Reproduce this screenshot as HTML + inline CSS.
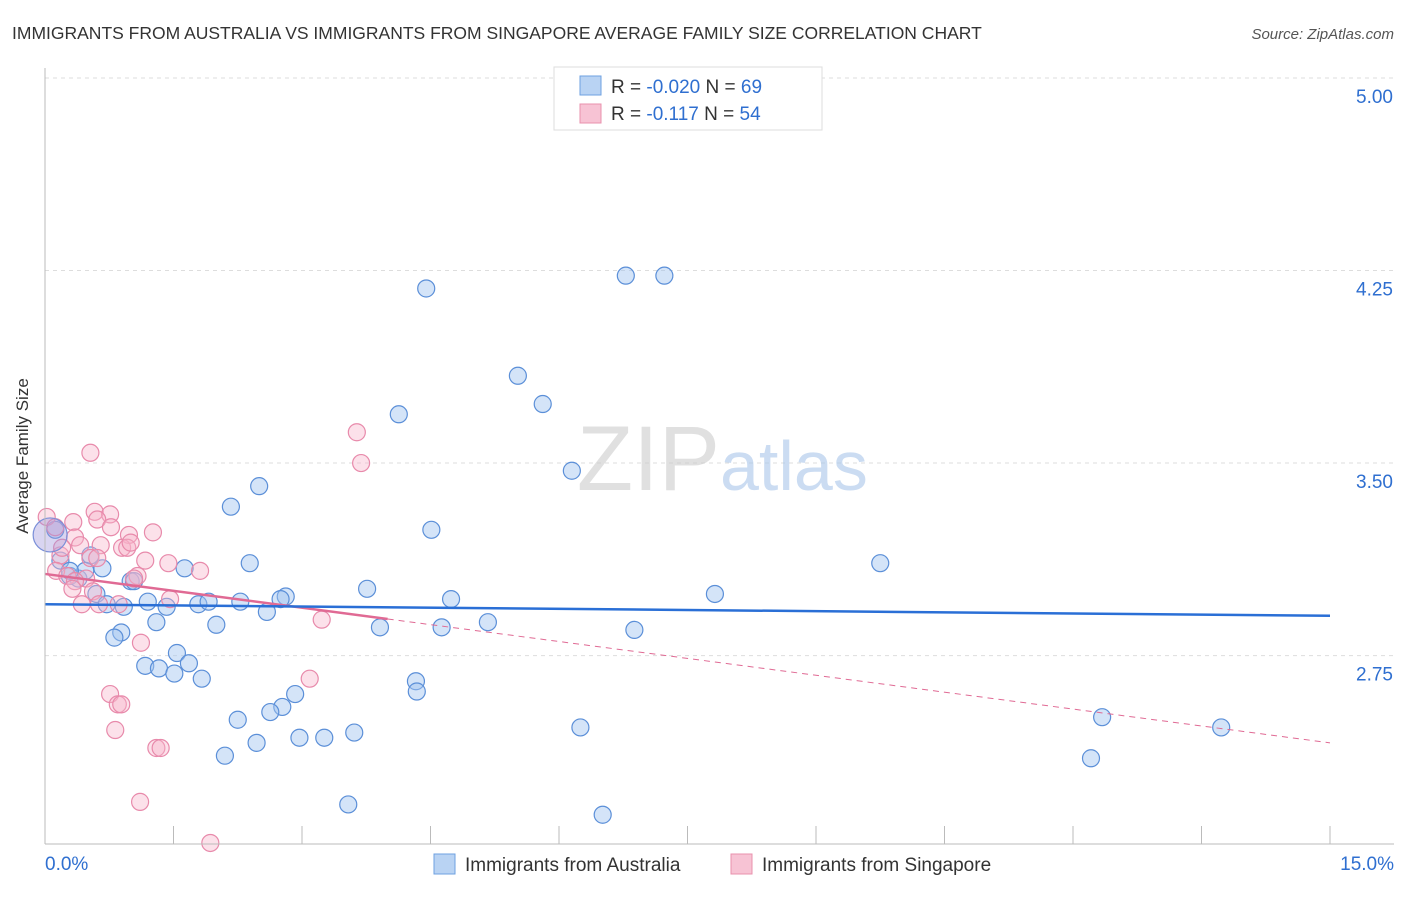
<!DOCTYPE html>
<html><head><meta charset="utf-8"><style>
body{margin:0;background:#fff;font-family:"Liberation Sans",sans-serif;}
svg text{font-family:"Liberation Sans",sans-serif;}
</style></head><body>
<svg width="1406" height="892" xmlns="http://www.w3.org/2000/svg">
<text x="12" y="39" font-size="17.5" fill="#333">IMMIGRANTS FROM AUSTRALIA VS IMMIGRANTS FROM SINGAPORE AVERAGE FAMILY SIZE CORRELATION CHART</text>
<text x="1394" y="39" font-size="15" fill="#555" font-style="italic" text-anchor="end">Source: ZipAtlas.com</text>
<g id="grid"></g>
<text x="720" y="490" font-size="92" fill="#ccc" opacity="0.6" text-anchor="end" font-family="Liberation Serif">ZIP</text>
<text x="720" y="490" font-size="70" fill="#a9c6ea" opacity="0.6">atlas</text>
<g id="pts"></g>
<g id="lines"></g>
<g id="axes"></g>
<text x="28" y="456" font-size="17" fill="#333" text-anchor="middle" transform="rotate(-90 28 456)">Average Family Size</text>
<g>
<rect x="554" y="67" width="268" height="63" fill="#fff" stroke="#ddd"/>
<rect x="580" y="76" width="21" height="19" fill="#b9d3f3" stroke="#6ea0e0"/>
<rect x="580" y="104" width="21" height="19" fill="#f7c3d4" stroke="#e890ad"/>
<text x="611" y="93" font-size="19" fill="#333">R = <tspan fill="#2f6fd0">-0.020</tspan>   N = <tspan fill="#2f6fd0">69</tspan></text>
<text x="611" y="120" font-size="19" fill="#333">R =   <tspan fill="#2f6fd0">-0.117</tspan>   N = <tspan fill="#2f6fd0">54</tspan></text>
</g>
<g>
<rect x="434" y="854" width="21" height="20" fill="#b9d3f3" stroke="#6ea0e0"/>
<text x="465" y="871" font-size="19" fill="#333">Immigrants from Australia</text>
<rect x="731" y="854" width="21" height="20" fill="#f7c3d4" stroke="#e890ad"/>
<text x="762" y="871" font-size="19" fill="#333">Immigrants from Singapore</text>
</g>
</svg>
<script>
const yTicks=[5.00,4.25,3.50,2.75];
const xLabels=["0.0%","15.0%"];
const ausX=[4.45,6.78,7.23,5.52,5.81,4.13,6.15,2.50,2.17,4.51,9.75,2.39,1.63,0.67,0.53,1.00,3.76,7.82,2.81,2.75,4.74,0.60,1.20,0.72,0.92,1.42,1.79,1.91,2.28,2.59,5.17,1.30,2.00,3.91,4.63,6.88,0.89,0.81,1.54,1.17,1.33,1.68,1.51,1.83,4.33,4.34,2.92,2.77,2.63,2.25,6.25,3.61,12.34,13.73,2.97,3.26,2.47,2.10,12.21,3.54,6.51,0.12,0.18,0.29,0.39,0.47,0.29,1.04];
const ausY=[4.18,4.23,4.23,3.84,3.73,3.69,3.47,3.41,3.33,3.24,3.11,3.11,3.09,3.09,3.14,3.04,3.01,2.99,2.98,2.97,2.97,2.99,2.96,2.95,2.94,2.94,2.95,2.96,2.96,2.92,2.88,2.88,2.87,2.86,2.86,2.85,2.84,2.82,2.76,2.71,2.70,2.72,2.68,2.66,2.65,2.61,2.60,2.55,2.53,2.50,2.47,2.45,2.51,2.47,2.43,2.43,2.41,2.36,2.35,2.17,2.13,3.24,3.12,3.06,3.05,3.08,3.08,3.04];
const sgX=[0.53,3.64,3.69,0.02,0.58,0.76,0.61,0.33,0.77,1.26,0.98,0.12,0.35,0.65,0.41,0.90,0.96,0.18,0.53,0.61,1.44,1.81,0.13,0.26,1.08,1.04,0.48,0.35,0.32,0.56,1.46,0.86,0.43,0.63,3.23,1.12,3.09,0.76,0.85,0.89,0.82,1.30,1.35,1.11,1.93,1.00,1.17,0.20];
const sgY=[3.54,3.62,3.50,3.29,3.31,3.30,3.28,3.27,3.25,3.23,3.22,3.25,3.21,3.18,3.18,3.17,3.17,3.14,3.13,3.13,3.11,3.08,3.08,3.06,3.06,3.05,3.05,3.04,3.01,3.00,2.97,2.95,2.95,2.95,2.89,2.80,2.66,2.60,2.56,2.56,2.46,2.39,2.39,2.18,2.02,3.19,3.12,3.17];
const ausTrend=[2.95,2.905];
const sgTrend=[3.068,2.41];
const sgSolidEnd=4.0;
const NS="http://www.w3.org/2000/svg";
const X=p=>45+p/15*1285, Y=v=>78+(5-v)*256.7;
function mk(t,a,parent){const e=document.createElementNS(NS,t);for(const k in a)e.setAttribute(k,a[k]);parent.appendChild(e);return e;}
const grid=document.getElementById('grid'),axes=document.getElementById('axes');
yTicks.forEach(v=>{
 const l=mk('line',{x1:45,x2:1394,y1:Y(v),y2:Y(v),stroke:'#ddd','stroke-dasharray':'4,4'},grid);
 
 
 const t=mk('text',{x:1393,y:Y(v)+25,'font-size':19,fill:'#2f6fd0','text-anchor':'end'},grid);
 t.textContent=v.toFixed(2);
 
 
});
mk('line',{x1:45,x2:45,y1:68,y2:844,stroke:'#bbb'},axes);
mk('line',{x1:45,x2:1394,y1:844,y2:844,stroke:'#bbb'},axes);
for(let i=1;i<=10;i++){const l=mk('line',{x1:X(i*1.5),x2:X(i*1.5),y1:826,y2:844,stroke:'#bbb'},axes);
 
 }
const xl0=mk('text',{x:45,y:870,'font-size':19,fill:'#2f6fd0'},axes);xl0.textContent=xLabels[0];


const xl1=mk('text',{x:1394,y:870,'font-size':19,fill:'#2f6fd0','text-anchor':'end'},axes);xl1.textContent=xLabels[1];


const pts=document.getElementById('pts');
ausX.forEach((x,i)=>{const c=mk('circle',{cx:X(x),cy:Y(ausY[i]),r:8.5,fill:'rgba(160,195,240,0.45)',stroke:'#5b8fd8','stroke-width':1.2},pts);
 
 });
sgX.forEach((x,i)=>{const c=mk('circle',{cx:X(x),cy:Y(sgY[i]),r:8.5,fill:'rgba(247,180,203,0.4)',stroke:'#e88aab','stroke-width':1.2},pts);
 
 });
const big=mk('circle',{cx:X(0.06),cy:Y(3.22),r:17,fill:'rgba(160,150,220,0.4)',stroke:'#7a8fd8','stroke-width':1.2},pts);


const lines=document.getElementById('lines');
const sv=x=>sgTrend[0]+(sgTrend[1]-sgTrend[0])*x/15;
const pd=mk('line',{x1:X(sgSolidEnd),y1:Y(sv(sgSolidEnd)),x2:X(15),y2:Y(sgTrend[1]),stroke:'#e06a94','stroke-width':1,'stroke-dasharray':'6,5'},lines);


const ps=mk('line',{x1:X(0),y1:Y(sgTrend[0]),x2:X(sgSolidEnd),y2:Y(sv(sgSolidEnd)),stroke:'#e06a94','stroke-width':2.5},lines);


const bl=mk('line',{x1:X(0),y1:Y(ausTrend[0]),x2:X(15),y2:Y(ausTrend[1]),stroke:'#2a6fd6','stroke-width':2.5},lines);


</script>
</body></html>
